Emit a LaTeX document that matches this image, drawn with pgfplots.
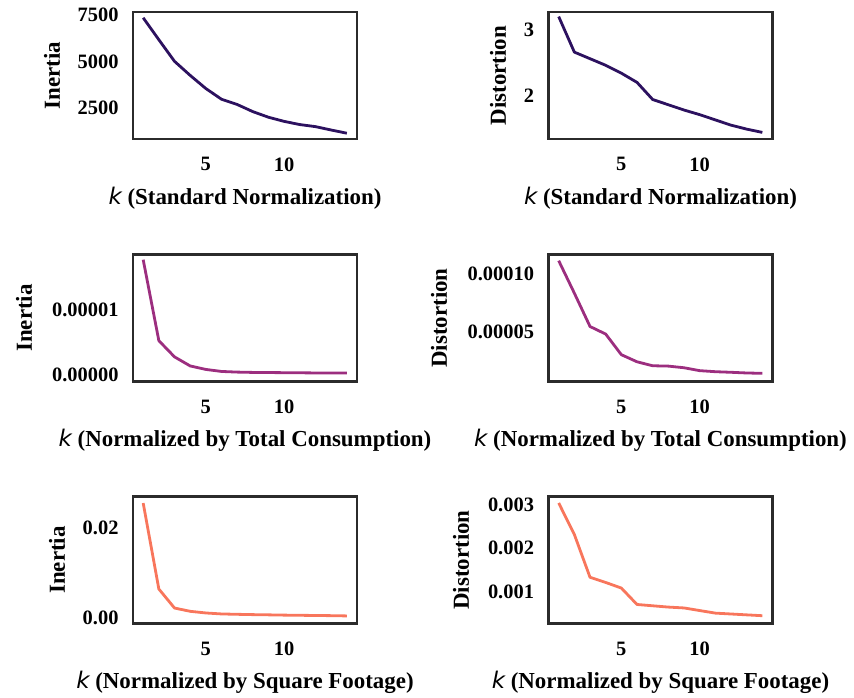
\documentclass[border=0pt]{standalone}
\usepackage{pgfplots}
\pgfplotsset{compat=1.18}
\usepackage{fontspec}
\setmainfont{Liberation Serif}
\newfontfamily\dv{DejaVu Sans}
\newcommand{\kk}{{\dv\mdseries\itshape k}}
\definecolor{c1}{HTML}{2C115F}
\definecolor{c2}{HTML}{9C2E7F}
\definecolor{c3}{HTML}{F8765C}
\definecolor{framec}{HTML}{2B2B2B}
\pgfplotsset{
 myax/.style={scale only axis, width=224bp, height=127bp, anchor=south west,
  xmin=0.35, xmax=14.65, xtick={5,10}, xticklabels={5,10},
  major tick length=0pt, axis line style={line width=2.5bp, color=framec},
  tick label style={font=\fontsize{20.5}{23}\selectfont\bfseries},
  label style={font=\fontsize{23}{26}\selectfont\bfseries},
  xticklabel style={yshift=-15bp}, yticklabel style={xshift=-11bp},
  xlabel style={at={(axis description cs:0.5,-0.4646)}, anchor=center},
  scaled ticks=false,
  every axis plot/.append style={line width=2.8bp, no markers, line join=round},
 },
 yl/.style={ylabel style={at={(axis description cs:#1,0.5)}, anchor=center}},
}
\begin{document}
\begin{tikzpicture}[x=1bp,y=1bp]
\path[use as bounding box] (0,0) rectangle (854,698);
% Row 1 left
\begin{axis}[myax, at={(133bp,559bp)}, yl=-0.3616,
  ymin=862, ymax=7628, ytick={2500,5000,7500}, yticklabels={2500,5000,7500},
  ylabel={Inertia}, xlabel={\kk\ (Standard Normalization)}]
\addplot[c1] coordinates {(1,7320) (2,6150) (3,5000) (4,4250) (5,3550) (6,2980) (7,2700) (8,2320) (9,2020) (10,1800) (11,1630) (12,1520) (13,1340) (14,1170)};
\end{axis}
% Row 1 right
\begin{axis}[myax, at={(548.5bp,559bp)}, yl=-0.2254,
  ymin=1.34, ymax=3.27, ytick={2,3}, yticklabels={2,3},
  ylabel={Distortion}, xlabel={\kk\ (Standard Normalization)}]
\addplot[c1] coordinates {(1,3.20) (2,2.66) (3,2.56) (4,2.46) (5,2.34) (6,2.20) (7,1.94) (8,1.86) (9,1.78) (10,1.71) (11,1.63) (12,1.55) (13,1.49) (14,1.44)};
\end{axis}
% Row 2 left
\begin{axis}[myax, at={(133bp,316.5bp)}, yl=-0.4866,
  ymin=-0.0000011, ymax=0.0000185, ytick={0,0.00001}, yticklabels={0.00000,0.00001},
  ylabel={Inertia}, xlabel={\kk\ (Normalized by Total Consumption)}]
\addplot[c2] coordinates {(1,0.0000177) (2,0.0000052) (3,0.0000027) (4,0.0000013) (5,0.00000076) (6,0.00000045) (7,0.00000035) (8,0.0000003) (9,0.00000028) (10,0.00000026) (11,0.00000024) (12,0.00000022) (13,0.00000021) (14,0.0000002)};
\end{axis}
% Row 2 right
\begin{axis}[myax, at={(548.5bp,316.5bp)}, yl=-0.4888,
  ymin=0.0000073, ymax=0.0001163, ytick={0.00005,0.0001}, yticklabels={0.00005,0.00010},
  ylabel={Distortion}, xlabel={\kk\ (Normalized by Total Consumption)}]
\addplot[c2] coordinates {(1,0.000111) (2,0.0000831) (3,0.0000545) (4,0.000048) (5,0.0000303) (6,0.0000242) (7,0.0000208) (8,0.0000205) (9,0.0000191) (10,0.0000166) (11,0.0000157) (12,0.0000152) (13,0.0000146) (14,0.0000143)};
\end{axis}
% Row 3 left
\begin{axis}[myax, at={(133bp,74.5bp)}, yl=-0.3393,
  ymin=-0.00125, ymax=0.0271, ytick={0,0.02}, yticklabels={0.00,0.02},
  ylabel={Inertia}, xlabel={\kk\ (Normalized by Square Footage)}]
\addplot[c3] coordinates {(1,0.02564) (2,0.00645) (3,0.0022) (4,0.00147) (5,0.0011) (6,0.00088) (7,0.0008) (8,0.00073) (9,0.00068) (10,0.00062) (11,0.00058) (12,0.00054) (13,0.0005) (14,0.00044)};
\end{axis}
% Row 3 right
\begin{axis}[myax, at={(548.5bp,74.5bp)}, yl=-0.3906,
  ymin=0.00026, ymax=0.0032, ytick={0.001,0.002,0.003}, yticklabels={0.001,0.002,0.003},
  ylabel={Distortion}, xlabel={\kk\ (Normalized by Square Footage)}]
\addplot[c3] coordinates {(1,0.00305) (2,0.00232) (3,0.00133) (4,0.00121) (5,0.00108) (6,0.0007) (7,0.00067) (8,0.00064) (9,0.00062) (10,0.00056) (11,0.0005) (12,0.00048) (13,0.00046) (14,0.00044)};
\end{axis}
\end{tikzpicture}
\end{document}
